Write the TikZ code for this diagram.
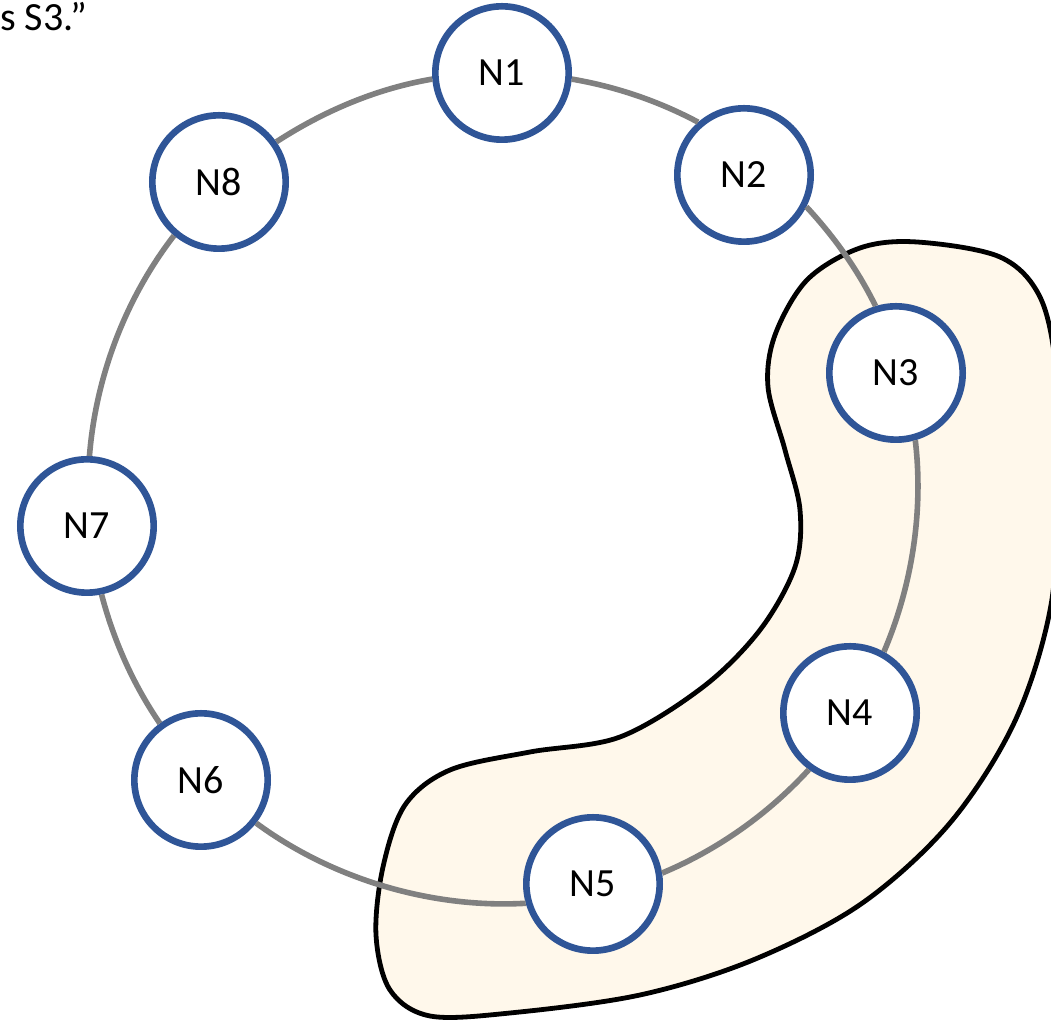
\documentclass[tikz,border=0pt]{standalone}
\usepackage{fontspec}
\setmainfont{Carlito}
\definecolor{nodeblue}{HTML}{2F5597}
\definecolor{ringgray}{HTML}{808080}
\definecolor{blobfill}{HTML}{FFF8EB}
\begin{document}
\begin{tikzpicture}[x=0.75pt,y=0.75pt,
  ringnode/.style={circle,draw=nodeblue,line width=5pt,fill=white,
    minimum size=100pt,inner sep=0pt,font=\fontsize{30}{36}\selectfont},
  ring/.style={draw=ringgray,line width=4.2pt,looseness=0.86},
  blob/.style={draw=black,line width=3.6pt,fill=blobfill}]
\useasboundingbox (0,0) rectangle (1051,1020);
\clip (0,0) rectangle (1051,1020);

% highlighted group
\path[blob] plot[smooth cycle,tension=0.55] coordinates {
  (917,778) (1000,763) (1040,723) (1056,650) (1058,540) (1051,415)
  (1015,299) (950,197) (861,116) (753,60) (640,25)
  (510,7) (430,4)
  (390,30) (376,85) (383,153) (405,215) (450,250) (530,268) (620,283)
  (703,333) (760,390) (795,453) (800,510) (785,570) (768,633)
  (775,685) (807,740) (860,772)};

% partial caption text
\node[anchor=base west,font=\fontsize{30}{36}\selectfont,inner sep=0pt] (cap) at (0,989) {s S3.”};

% nodes
\node[ringnode] (N1) at (502,947) {N1};
\node[ringnode] (N2) at (744,845) {N2};
\node[ringnode] (N3) at (896,647) {N3};
\node[ringnode] (N4) at (850,307) {N4};
\node[ringnode] (N5) at (593,136) {N5};
\node[ringnode] (N6) at (201,240) {N6};
\node[ringnode] (N7) at (87,494) {N7};
\node[ringnode] (N8) at (219,838) {N8};

% ring connectors
\draw[ring] (N1.-5.65) to[out=-9.66,in=151.93] (N2.131.8);
\draw[ring] (N2.-27.04) to[out=-47.16,in=116.11] (N3.107.76);
\draw[ring] (N3.-74.96) to[out=-83.3,in=66.92] (N4.61.14);
\draw[ring] (N4.-126.68) to[out=-132.46,in=22.67] (N5.9.92);
\draw[ring] (N5.196.02) to[out=-176.72,in=-36.35] (N6.-38.16);
\draw[ring] (N6.126.24) to[out=124.41,in=-75.25] (N7.-78.74);
\draw[ring] (N7.88.92) to[out=85.44,in=-127.68] (N8.-130.44);
\draw[ring] (N8.35.78) to[out=33.03,in=189.66] (N1.185.65);
\end{tikzpicture}
\end{document}
